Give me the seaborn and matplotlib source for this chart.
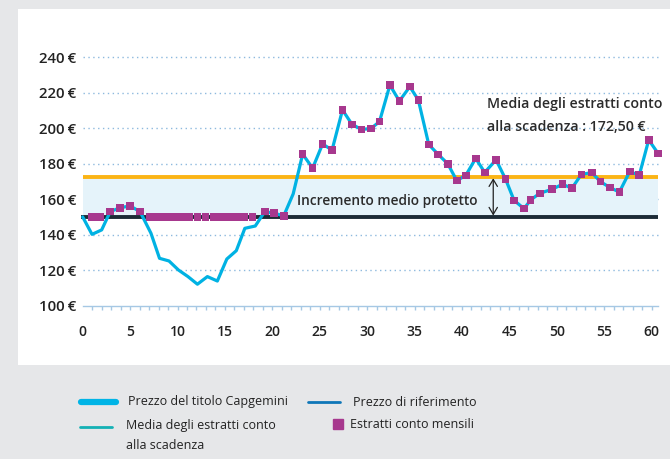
import numpy as np
import pandas as pd
import matplotlib
matplotlib.use("Agg")
import matplotlib.pyplot as plt
import seaborn as sns
from matplotlib import font_manager
from matplotlib.lines import Line2D
from matplotlib.patches import Rectangle

# prezzo del titolo (mese, valore)
mesi_prezzo = [0, 0.98, 2.0, 2.9, 3.95, 5.0, 6.05, 7.2, 8.1, 9.1, 10.1, 11.1, 12.1, 13.15,
               14.2, 15.2, 16.2, 17.1, 18.2, 19.2, 20.2, 21.2, 22.2, 23.2, 24.25, 25.3,
               26.3, 27.4, 28.4, 29.4, 30.4, 31.3, 32.4, 33.4, 34.5, 35.4, 36.5, 37.5,
               38.5, 39.45, 40.4, 41.45, 42.4, 43.6, 44.6, 45.5, 46.55, 47.25, 48.2, 49.5,
               50.6, 51.6, 52.6, 53.7, 54.6, 55.6, 56.6, 57.7, 58.7, 59.7, 60.7]
prezzo = [150, 140.2, 142.7, 153, 155.2, 156.2, 153, 140.8, 126.7, 125.2, 120.1, 116.4,
          112.1, 116.4, 113.9, 126.3, 131, 143.6, 144.9, 153, 152.1, 150.6, 163, 185.4,
          177.5, 191.1, 187.7, 210.3, 202.2, 199.3, 199.8, 203.7, 224.3, 215.3, 223.4,
          215.9, 190.8, 185.2, 180, 170.5, 173.4, 183, 175.1, 182.2, 171.3, 159.3, 154.7,
          159.6, 163.3, 165.6, 168.4, 166.2, 174, 175, 169.9, 166.6, 164, 175.6, 173.5,
          193.4, 185.7]

# estratti conto mensili
mesi_estratti = [0.95, 1.85, 2.9, 3.95, 5.0, 6.05, 7.1, 7.95, 8.8, 9.65, 10.5, 11.25, 12.1,
                 12.95, 13.8, 14.6, 15.4, 16.25, 17.05, 17.9, 19.25, 20.2, 21.2, 23.2,
                 24.25, 25.3, 26.3, 27.4, 28.4, 29.4, 30.4, 31.3, 32.4, 33.4, 34.5, 35.4,
                 36.5, 37.5, 38.5, 39.45, 40.4, 41.45, 42.4, 43.6, 44.6, 45.5, 46.55, 47.25,
                 48.2, 49.5, 50.6, 51.6, 52.6, 53.7, 54.6, 55.6, 56.6, 57.7, 58.7, 59.7, 60.7]
estratti = [150, 150, 153, 155.2, 156.2, 153, 150, 150, 150, 150, 150, 150, 150, 150, 150,
            150, 150, 150, 150, 150, 153, 152.1, 150.6, 185.4, 177.5, 191.1, 187.7, 210.3,
            202.2, 199.3, 199.8, 203.7, 224.3, 215.3, 223.4, 215.9, 190.8, 185.2, 180,
            170.5, 173.4, 183, 175.1, 182.2, 171.3, 159.3, 154.7, 159.6, 163.3, 165.6,
            168.4, 166.2, 174, 175, 169.9, 166.6, 164, 175.6, 173.5, 193.4, 185.7]

prezzo_riferimento = 150
media_estratti = 172.5
fine = 60.7
griglia = [120, 140, 160, 180, 200, 220, 240]
valori_y = [100, 120, 140, 160, 180, 200, 220, 240]
mesi_tick = list(range(0, 61))


def peso(w):
    if isinstance(w, str):
        return font_manager.weight_dict.get(w, 400)
    return w


def scegli_font():
    # una famiglia che abbia sia il regular sia un peso semibold/bold
    for nome in ['Open Sans', 'Lato', 'Roboto', 'Inter', 'Noto Sans', 'Liberation Sans']:
        pesi = sorted({peso(f.weight) for f in font_manager.fontManager.ttflist if f.name == nome})
        if 400 in pesi:
            for w in (600, 700, 500):
                if w in pesi:
                    return nome, w
    return 'DejaVu Sans', 700


sns.set_style("white")
famiglia, grassetto = scegli_font()
plt.rcParams['font.family'] = [famiglia, 'DejaVu Sans']

W, H = 670, 459
fig = plt.figure(figsize=(W / 100, H / 100), dpi=100, facecolor='#e6e7e9')
fig.add_artist(Rectangle((18 / W, 1 - 365 / H), 1 - 18 / W, (365 - 9) / H,
                         transform=fig.transFigure, facecolor='white', edgecolor='none', zorder=-1))

ax = fig.add_axes([0.1093, 0.334, 0.8915, 0.58])
ax.patch.set_alpha(0)
ax.set_xlim(-1, 62)
ax.set_ylim(100, 250)

ax.hlines(griglia, 0, fine, colors='#8db9de', linestyles=(0, (1, 2.5)), lw=1, zorder=0.5)
ax.fill_between([0, fine], prezzo_riferimento, media_estratti, color='#e5f3fa', lw=0, zorder=1)
ax.hlines(prezzo_riferimento, -0.2, fine, color='#1c2b36', lw=2.8, zorder=2)
ax.hlines(media_estratti, 0, fine, color='#fbb415', lw=2.8, zorder=2)

sns.lineplot(x=mesi_prezzo, y=prezzo, color='#00b2e3', lw=2.3, sort=False, ax=ax, zorder=3)
sns.scatterplot(x=mesi_estratti, y=estratti, marker='s', s=30, color='#a7388e',
                edgecolor='none', ax=ax, zorder=4)

sns.despine(ax=ax, left=True)
ax.spines['bottom'].set_color('#a6c8e4')
ax.spines['bottom'].set_linewidth(1)
ax.spines['bottom'].set_bounds(0, fine)

ax.set_xticks(mesi_tick)
ax.set_xticklabels([str(m) if m % 5 == 0 else '' for m in mesi_tick], fontsize=10,
                   fontweight=grassetto, color='#222222')
ax.tick_params(axis='x', which='major', bottom=True, length=3, width=1, color='#a6c8e4',
               direction='out', pad=11)
ax.xaxis.get_major_ticks()[0].tick1line.set_visible(False)

ax.set_yticks(valori_y)
ax.set_yticklabels([f"{v}\u2009€" for v in valori_y], fontsize=10.8, fontweight=grassetto,
                   color='#222222')
ax.tick_params(axis='y', length=0, pad=-2)
ax.set_xlabel('')
ax.set_ylabel('')

ax.text(22.6, 159, "Incremento medio protetto", fontsize=9.9, fontweight=grassetto,
        color='#2b2b2b', va='center', ha='left')
ax.annotate('', xy=(43.3, 150.8), xytext=(43.3, 171.8),
            arrowprops=dict(arrowstyle='<->,head_length=0.5,head_width=0.3', color='#222222',
                            lw=0.9, shrinkA=0, shrinkB=0))
ax.text(42.6, 207.2, "Media degli estratti conto\nalla scadenza : 172,50 €", fontsize=10.2,
        fontweight=grassetto, color='#2b2b2b', va='center', ha='left', linespacing=1.75)


def fx(px):
    return px / W


def fy(py):
    return 1 - py / H


# legenda
legenda = [
    ((81, 116, 402), '#00b4e6', 4.5, "Prezzo del titolo Capgemini", 128, 402, 'center'),
    ((308, 340, 402), '#0e76b8', 2.0, "Prezzo di riferimento", 353, 402, 'center'),
    ((80, 112, 427), '#14b1b5', 2.0, "Media degli estratti conto\nalla scadenza", 126, 419, 'top'),
]
for (x0, x1, y), col, lw, testo, tx, ty, va in legenda:
    fig.add_artist(Line2D([fx(x0), fx(x1)], [fy(y), fy(y)], transform=fig.transFigure,
                          color=col, lw=lw, solid_capstyle='round'))
    fig.text(fx(tx), fy(ty), testo, fontsize=9, color='#222222', va=va, ha='left',
             linespacing=1.7)
fig.add_artist(Line2D([fx(338)], [fy(424)], transform=fig.transFigure, marker='s',
                      markersize=6.5, color='#a7388e', lw=0))
fig.text(fx(350), fy(424), "Estratti conto mensili", fontsize=9, color='#222222',
         va='center', ha='left')

fig.savefig("out.png", dpi=100, facecolor=fig.get_facecolor())
